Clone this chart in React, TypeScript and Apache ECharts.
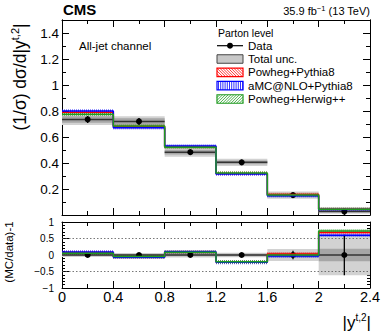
import React, { useEffect, useRef } from 'react';
import * as echarts from 'echarts';

// ---------------- data ----------------
const binEdges = [0, 0.4, 0.8, 1.2, 1.6, 2.0, 2.4];
const xTickLabels = ['0', '0.4', '0.8', '1.2', '1.6', '2', '2.4'];
const mainYLabels = [0.2, 0.4, 0.6, 0.8, 1, 1.2, 1.4];
const mainYTicks = [0, 0.2, 0.4, 0.6, 0.8, 1, 1.2, 1.4];
const ratioYLabels = [-1, -0.5, 0, 0.5, 1];
const dataValues = [0.735, 0.72, 0.483, 0.405, 0.153, 0.026];
const dataErrors = [0.027, 0.027, 0.022, 0.02, 0.02, 0.016];
const totalUnc = [0.043, 0.04, 0.035, 0.028, 0.028, 0.016];
const statUnc = [0.025, 0.025, 0.018, 0.014, 0.01, 0.005];
const powhegPythia8 = [0.79, 0.68, 0.525, 0.32, 0.158, 0.0437];
const amcNloPythia8 = [0.8, 0.672, 0.53, 0.315, 0.148, 0.0416];
const powhegHerwig = [0.775, 0.685, 0.522, 0.323, 0.153, 0.045];

const F = '"Liberation Sans", Arial, Helvetica, sans-serif';
const RED = '#ff0000';
const BLUE = '#0000ff';
const GREEN = '#1f9b1f';

const stepData = (vals: number[]) => {
  const d = vals.map((v, i) => [binEdges[i], v]);
  d.push([binEdges[binEdges.length - 1], vals[vals.length - 1]]);
  return d;
};
const binData = (vals: number[]) => vals.map((v, i) => [binEdges[i], binEdges[i + 1], v]);
const toRatio = (vals: number[]) => vals.map((v, i) => v / dataValues[i] - 1);

const fmt = (v: number) => {
  const s = String(+(+v).toFixed(2));
  return s.replace('-', '\u2212');
};

const axisCommon = {
  axisLine: { onZero: false, lineStyle: { color: '#000', width: 1 } },
  axisTick: { inside: true, length: 7, lineStyle: { color: '#000', width: 1 } },
  minorTick: { show: true, splitNumber: 2, length: 4, lineStyle: { color: '#000', width: 1 } },
  splitLine: { show: false },
};

const bandRender = (params: any, api: any) => {
  const x0 = api.value(0), x1 = api.value(1), v = api.value(2), t = api.value(3), s = api.value(4);
  const p0 = api.coord([x0, v + t]);
  const p1 = api.coord([x1, v - t]);
  const q0 = api.coord([x0, v + s]);
  const q1 = api.coord([x1, v - s]);
  return {
    type: 'group',
    children: [
      { type: 'rect', shape: { x: p0[0], y: p0[1], width: p1[0] - p0[0], height: p1[1] - p0[1] }, style: { fill: '#d2d2d2' } },
      { type: 'rect', shape: { x: q0[0], y: q0[1], width: q1[0] - q0[0], height: q1[1] - q0[1] }, style: { fill: '#a6a6a6' } },
    ],
  };
};

const dataRender = (params: any, api: any) => {
  const x0 = api.value(0), x1 = api.value(1), v = api.value(2), e = api.value(3);
  const a = api.coord([x0, v]);
  const b = api.coord([x1, v]);
  const c = api.coord([(x0 + x1) / 2, v]);
  const top = api.coord([(x0 + x1) / 2, v + e]);
  const bot = api.coord([(x0 + x1) / 2, v - e]);
  return {
    type: 'group',
    children: [
      { type: 'line', shape: { x1: a[0], y1: a[1], x2: b[0], y2: b[1] }, style: { stroke: '#333', lineWidth: 1.5 } },
      { type: 'line', shape: { x1: top[0], y1: top[1], x2: bot[0], y2: bot[1] }, style: { stroke: '#000', lineWidth: 1.3 } },
      { type: 'circle', shape: { cx: c[0], cy: c[1], r: 3 }, style: { fill: '#000' } },
    ],
  };
};

const mcBandRender = (color: string) => (params: any, api: any) => {
  const a = api.coord([api.value(0), api.value(2)]);
  const b = api.coord([api.value(1), api.value(2)]);
  return {
    type: 'line',
    shape: { x1: a[0], y1: a[1], x2: b[0], y2: b[1] },
    style: { stroke: color, lineWidth: 3.6, lineDash: [1, 1], opacity: 0.55 },
  };
};

// hatching for legend boxes
const hatch = (x: number, y: number, w: number, h: number, kind: string, color: string) => {
  const els: any[] = [];
  const st = { stroke: color, lineWidth: 0.8 };
  if (kind === 'v') {
    for (let xi = x + 1.5; xi < x + w; xi += 2.2) {
      els.push({ type: 'line', shape: { x1: xi, y1: y, x2: xi, y2: y + h }, style: st });
    }
  } else {
    for (let c = -h; c < w; c += 2.8) {
      const smin = Math.max(0, -c);
      const smax = Math.min(h, w - c);
      if (smin >= smax) continue;
      if (kind === 'f') {
        els.push({ type: 'line', shape: { x1: x + c + smin, y1: y + h - smin, x2: x + c + smax, y2: y + h - smax }, style: st });
      } else {
        els.push({ type: 'line', shape: { x1: x + c + smin, y1: y + smin, x2: x + c + smax, y2: y + smax }, style: st });
      }
    }
  }
  return els;
};

const legendEntries = [
  { name: 'Data', kind: 'data', y: 45.7 },
  { name: 'Total unc.', kind: 'band', y: 59 },
  { name: 'Powheg+Pythia8', kind: 'b', color: RED, y: 72.3 },
  { name: 'aMC@NLO+Pythia8', kind: 'v', color: BLUE, y: 85.7 },
  { name: 'Powheg+Herwig++', kind: 'f', color: GREEN, y: 99 },
];

const buildLegend = () => {
  const els: any[] = [];
  const lx = 217, lw = 26, lh = 8.5;
  els.push({ type: 'text', x: 218, y: 32.5, style: { text: 'Parton level', font: `10.5px ${F}`, fill: '#000', verticalAlign: 'middle' } });
  legendEntries.forEach((en) => {
    const cy = en.y;
    if (en.kind === 'data') {
      els.push({ type: 'line', shape: { x1: lx, y1: cy, x2: lx + lw, y2: cy }, style: { stroke: '#000', lineWidth: 1.2 } });
      els.push({ type: 'circle', shape: { cx: lx + lw / 2, cy, r: 3 }, style: { fill: '#000' } });
    } else if (en.kind === 'band') {
      els.push({ type: 'rect', shape: { x: lx, y: cy - lh / 2, width: lw, height: lh }, style: { fill: '#c8c8c8', stroke: '#444', lineWidth: 1 } });
    } else {
      els.push({ type: 'rect', shape: { x: lx, y: cy - lh / 2, width: lw, height: lh }, style: { fill: '#fff', stroke: en.color, lineWidth: 1.2 } });
      hatch(lx, cy - lh / 2, lw, lh, en.kind, en.color as string).forEach((e) => els.push(e));
    }
    els.push({ type: 'text', x: 248, y: cy, style: { text: en.name, font: `11.5px ${F}`, fill: '#000', verticalAlign: 'middle' } });
  });
  return els;
};

export default function App() {
  const ref = useRef<HTMLDivElement>(null);
  useEffect(() => {
    document.body.style.margin = '0';
    const chart = echarts.init(ref.current as HTMLDivElement, null, { renderer: 'svg' });

    const mainBand = dataValues.map((v, i) => [binEdges[i], binEdges[i + 1], v, totalUnc[i], statUnc[i]]);
    const ratioBand = dataValues.map((v, i) => [binEdges[i], binEdges[i + 1], 0, totalUnc[i] / v, statUnc[i] / v]);
    const mainData = dataValues.map((v, i) => [binEdges[i], binEdges[i + 1], v, dataErrors[i]]);
    const ratioData = dataValues.map((v, i) => [binEdges[i], binEdges[i + 1], 0, dataErrors[i] / v]);

    const mcs = [
      { name: 'Powheg+Pythia8', vals: powhegPythia8, color: RED },
      { name: 'aMC@NLO+Pythia8', vals: amcNloPythia8, color: BLUE },
      { name: 'Powheg+Herwig++', vals: powhegHerwig, color: GREEN },
    ];

    const series: any[] = [];
    // main panel
    series.push({ type: 'custom', name: 'Total unc.', xAxisIndex: 0, yAxisIndex: 0, data: mainBand, renderItem: bandRender, encode: { x: [0, 1], y: 2 }, clip: true, silent: true });
    mcs.forEach((m) => series.push({ type: 'custom', name: m.name + ' unc', xAxisIndex: 0, yAxisIndex: 0, data: binData(m.vals), renderItem: mcBandRender(m.color), encode: { x: [0, 1], y: 2 }, clip: true, silent: true }));
    mcs.forEach((m) => series.push({ type: 'line', name: m.name, xAxisIndex: 0, yAxisIndex: 0, step: 'end', symbol: 'none', data: stepData(m.vals), lineStyle: { color: m.color, width: 1.5 }, itemStyle: { color: m.color }, silent: true }));
    series.push({ type: 'custom', name: 'Data', xAxisIndex: 0, yAxisIndex: 0, data: mainData, renderItem: dataRender, encode: { x: [0, 1], y: 2 }, clip: true, silent: true });
    // ratio panel
    series.push({
      type: 'custom', name: 'Total unc. ratio', xAxisIndex: 2, yAxisIndex: 4, data: ratioBand, renderItem: bandRender, encode: { x: [0, 1], y: 2 }, clip: true, silent: true,
      markLine: { silent: true, symbol: 'none', label: { show: false }, lineStyle: { type: [1.5, 2], color: '#555', width: 0.8 }, data: [{ yAxis: 0.5 }, { yAxis: -0.5 }] },
    });
    mcs.forEach((m) => series.push({ type: 'custom', name: m.name + ' ratio unc', xAxisIndex: 2, yAxisIndex: 4, data: binData(toRatio(m.vals)), renderItem: mcBandRender(m.color), encode: { x: [0, 1], y: 2 }, clip: true, silent: true }));
    mcs.forEach((m) => series.push({ type: 'line', name: m.name + ' ratio', xAxisIndex: 2, yAxisIndex: 4, step: 'end', symbol: 'none', data: stepData(toRatio(m.vals)), lineStyle: { color: m.color, width: 1.5 }, itemStyle: { color: m.color }, silent: true }));
    series.push({ type: 'custom', name: 'Data ratio', xAxisIndex: 2, yAxisIndex: 4, data: ratioData, renderItem: dataRender, encode: { x: [0, 1], y: 2 }, clip: true, silent: true });

    const labelBase = { show: true, fontFamily: F, color: '#000', hideOverlap: false, showMinLabel: true, showMaxLabel: true };

    const option: any = {
      animation: false,
      backgroundColor: '#fff',
      grid: [
        { left: 62, top: 20, width: 308, height: 195 },
        { left: 62, top: 222, width: 308, height: 66 },
      ],
      xAxis: [
        { ...axisCommon, type: 'value', gridIndex: 0, position: 'bottom', min: 0, max: 2.4, interval: 0.4, axisLabel: { show: false } },
        { ...axisCommon, type: 'value', gridIndex: 0, position: 'top', min: 0, max: 2.4, interval: 0.4, axisLabel: { show: false } },
        {
          ...axisCommon, type: 'value', gridIndex: 1, position: 'bottom', min: 0, max: 2.4, interval: 0.4,
          axisLabel: { ...labelBase, fontSize: 14.5, margin: 1, formatter: (v: number) => xTickLabels[Math.round(v / 0.4)] ?? '' },
        },
        { ...axisCommon, type: 'value', gridIndex: 1, position: 'top', min: 0, max: 2.4, interval: 0.4, axisLabel: { show: false } },
      ],
      yAxis: [
        {
          ...axisCommon, type: 'value', gridIndex: 0, position: 'left', min: 0, max: 1.5, interval: 0.1,
          axisTick: { ...axisCommon.axisTick, customValues: mainYTicks },
          minorTick: { show: false },
          axisLabel: { ...labelBase, fontSize: 13.5, margin: 3, customValues: mainYLabels, formatter: (v: number) => fmt(v) },
        },
        {
          ...axisCommon, type: 'value', gridIndex: 0, position: 'left', min: 0, max: 1.5, interval: 0.1,
          axisTick: { ...axisCommon.axisTick, length: 4 },
          minorTick: { show: false },
          axisLabel: { show: false },
        },
        {
          ...axisCommon, type: 'value', gridIndex: 0, position: 'right', min: 0, max: 1.5, interval: 0.1,
          axisTick: { ...axisCommon.axisTick, customValues: mainYTicks },
          minorTick: { show: false },
          axisLabel: { show: false },
        },
        {
          ...axisCommon, type: 'value', gridIndex: 0, position: 'right', min: 0, max: 1.5, interval: 0.1,
          axisTick: { ...axisCommon.axisTick, length: 4 },
          minorTick: { show: false },
          axisLabel: { show: false },
        },
        {
          ...axisCommon, type: 'value', gridIndex: 1, position: 'left', min: -1, max: 1, interval: 0.5,
          minorTick: { show: true, splitNumber: 5, length: 3, lineStyle: { color: '#000' } },
          axisLabel: { ...labelBase, fontSize: 10, margin: 8, customValues: ratioYLabels, formatter: (v: number) => fmt(v) },
        },
        {
          ...axisCommon, type: 'value', gridIndex: 1, position: 'right', min: -1, max: 1, interval: 0.5,
          minorTick: { show: true, splitNumber: 5, length: 3, lineStyle: { color: '#000' } },
          axisLabel: { show: false },
        },
      ],
      series,
      graphic: [
        { type: 'text', x: 63, y: 17, style: { text: 'CMS', font: `bold 15px ${F}`, fill: '#000', verticalAlign: 'bottom' } },
        {
          type: 'text', x: 370, y: 17,
          style: {
            text: '{a|35.9 fb}{s|\u22121}{a| (13 TeV)}', align: 'right', verticalAlign: 'bottom',
            rich: { a: { fontSize: 11, fontFamily: F, fill: '#000', lineHeight: 13 }, s: { fontSize: 7.5, fontFamily: F, fill: '#000', verticalAlign: 'top', lineHeight: 8 } },
          },
        },
        { type: 'text', x: 79, y: 46, style: { text: 'All-jet channel', font: `11.5px ${F}`, fill: '#000', verticalAlign: 'middle' } },
        {
          type: 'text', x: 20, y: 77, rotation: Math.PI / 2,
          style: {
            text: '{a|(1/σ) dσ/d|y}{s|t,2}{a||}', align: 'center', verticalAlign: 'middle',
            rich: { a: { fontSize: 17.5, fontFamily: F, fill: '#000', lineHeight: 22 }, s: { fontSize: 11, fontFamily: F, fill: '#000', verticalAlign: 'top', lineHeight: 11 } },
          },
        },
        { type: 'text', x: 9, y: 252, rotation: Math.PI / 2, style: { text: '(MC/data)-1', font: `11.5px ${F}`, fill: '#000', align: 'center', verticalAlign: 'middle' } },
        {
          type: 'text', x: 371, y: 332,
          style: {
            text: '{a||y}{s|t,2}{a||}', align: 'right', verticalAlign: 'bottom',
            rich: { a: { fontSize: 17, fontFamily: F, fill: '#000', lineHeight: 20 }, s: { fontSize: 10, fontFamily: F, fill: '#000', verticalAlign: 'top', lineHeight: 10 } },
          },
        },
        ...buildLegend(),
      ],
    };
    chart.setOption(option);
    return () => chart.dispose();
  }, []);
  return <div ref={ref} style={{ position: 'absolute', left: 0, top: 0, width: 390, height: 331 }} />;
}
